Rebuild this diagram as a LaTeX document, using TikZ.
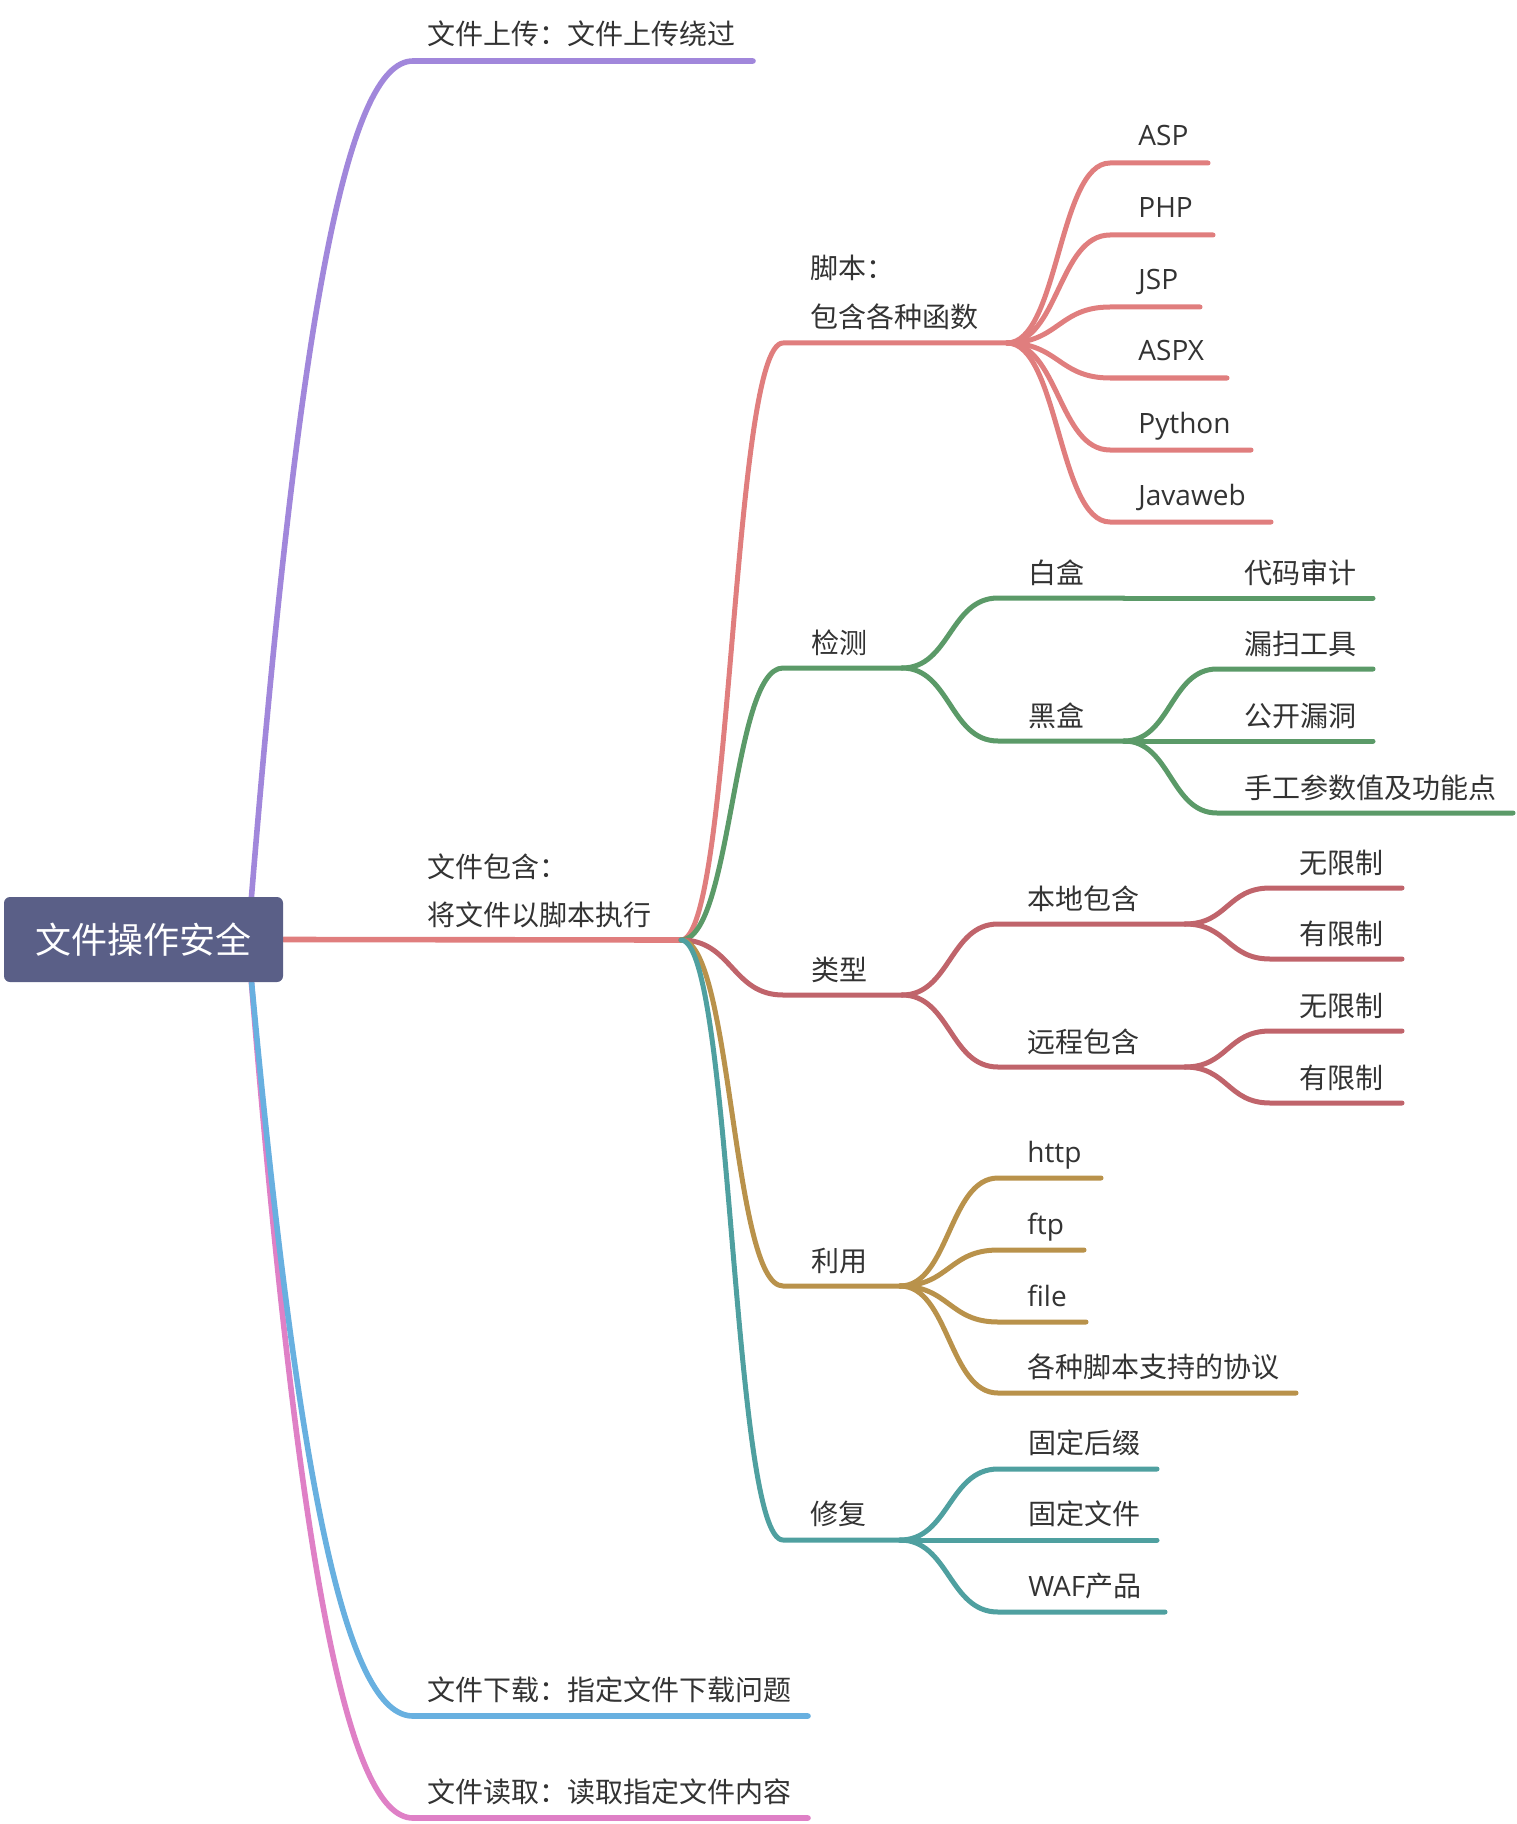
\documentclass[tikz,border=0pt]{standalone}
\usepackage{fontspec}
\setmainfont{Open Sans}
\newfontfamily\cjk{Noto Sans CJK SC}
\usetikzlibrary{calc,backgrounds}
\definecolor{rootc}{HTML}{5A5F87}
\definecolor{textc}{HTML}{333333}
\definecolor{cpurple}{HTML}{A187DB}
\definecolor{csalmon}{HTML}{E07E7E}
\definecolor{cgreen}{HTML}{5B9A68}
\definecolor{crose}{HTML}{C0646B}
\definecolor{cgold}{HTML}{B9924B}
\definecolor{cteal}{HTML}{4FA0A0}
\definecolor{cblue}{HTML}{68B0E0}
\definecolor{cpink}{HTML}{DF80C6}
\begin{document}
\begin{tikzpicture}[x=0.5pt,y=-0.5pt,
  txt/.style={anchor=base west, inner sep=0pt, text=textc, font=\fontsize{14pt}{16pt}\selectfont},
  ctxt/.style={txt, font=\fontsize{14pt}{16pt}\selectfont\cjk},
  br/.style={line width=2.5pt, line cap=round, line join=round,
    to path={let \p1=(\tikztostart), \p2=(\tikztotarget) in
      .. controls ({0.5*\x1+0.5*\x2},\y1) and ({0.5*\x1+0.5*\x2},\y2) .. (\tikztotarget)}},
  rb/.style={line width=2.8pt, line cap=round, line join=round,
    to path={let \p1=(\tikztostart), \p2=(\tikztotarget) in
      .. controls ({(\x1)+0.3*((\x2)-(\x1))},{(\y1)+0.71*((\y2)-(\y1))}) and ({(\x1)+0.6*((\x2)-(\x1))},\y2) .. (\tikztotarget)}},
  ln/.style={line width=2.5pt, line cap=round}
]
\useasboundingbox (0,0) rectangle (1516,1824);

% root
\node[fill=rootc, rounded corners=3pt, minimum width=139.5pt, minimum height=42.5pt, inner sep=0pt,
      text=white, font=\fontsize{18pt}{20pt}\selectfont\cjk] (root) at (143.5,939.5) {文件操作安全};

% coordinates
\coordinate (up0) at (250,915);
\coordinate (dn0) at (250,965);
\coordinate (s1) at (413,61);   \coordinate (e1) at (753,61);
\coordinate (s7) at (413,1716); \coordinate (e7) at (808,1716);
\coordinate (s8) at (413,1818); \coordinate (e8) at (808,1818);
\coordinate (A) at (681,940);

% level 2
\coordinate (sJB) at (783,343); \coordinate (B) at (1007,343);
\coordinate (sJC) at (783,668); \coordinate (C) at (902,668);
\coordinate (sLX) at (783,995); \coordinate (D) at (902,995);
\coordinate (sLY) at (783,1286); \coordinate (E) at (900,1286);
\coordinate (sXF) at (783,1540); \coordinate (F) at (900,1540);

% script children
\coordinate (sASP) at (1110,163); \coordinate (eASP) at (1208,163);
\coordinate (sPHP) at (1110,235); \coordinate (ePHP) at (1213,235);
\coordinate (sJSP) at (1110,307); \coordinate (eJSP) at (1200,307);
\coordinate (sASPX) at (1110,378); \coordinate (eASPX) at (1227,378);
\coordinate (sPy) at (1110,450); \coordinate (ePy) at (1251,450);
\coordinate (sJW) at (1110,522); \coordinate (eJW) at (1271,522);

% detect children
\coordinate (sBH) at (998,598); \coordinate (G) at (1124,598);
\coordinate (sHH) at (998,741); \coordinate (H) at (1124,741);
\coordinate (sDM) at (1217,598); \coordinate (eDM) at (1373,598);
\coordinate (sLS) at (1217,669); \coordinate (eLS) at (1373,669);
\coordinate (sGK) at (1217,741); \coordinate (eGK) at (1373,741);
\coordinate (sSG) at (1217,813); \coordinate (eSG) at (1513,813);

% type children
\coordinate (sBD) at (998,924); \coordinate (I) at (1185,924);
\coordinate (sYC) at (998,1067); \coordinate (J) at (1185,1067);
\coordinate (sW1) at (1270,888); \coordinate (eW1) at (1402,888);
\coordinate (sY1) at (1270,959); \coordinate (eY1) at (1402,959);
\coordinate (sW2) at (1270,1031); \coordinate (eW2) at (1402,1031);
\coordinate (sY2) at (1270,1103); \coordinate (eY2) at (1402,1103);

% use children
\coordinate (sHT) at (998,1178); \coordinate (eHT) at (1101,1178);
\coordinate (sFT) at (998,1250); \coordinate (eFT) at (1084,1250);
\coordinate (sFI) at (998,1322); \coordinate (eFI) at (1086,1322);
\coordinate (sGZ) at (998,1393); \coordinate (eGZ) at (1296,1393);

% fix children
\coordinate (sHZ) at (998,1469); \coordinate (eHZ) at (1157,1469);
\coordinate (sWJ) at (998,1540); \coordinate (eWJ) at (1157,1540);
\coordinate (sWAF) at (998,1612); \coordinate (eWAF) at (1165,1612);

\begin{scope}[on background layer]
  \draw[rb, cpurple] (up0) to (s1) -- (e1);
  \draw[rb, cpink] (dn0) to (s8) -- (e8);
  \draw[rb, cblue] (dn0) to (s7) -- (e7);
  \draw[csalmon, line width=2.8pt, line cap=round] (root.east) -- (A);
\end{scope}

% level 2 connectors
\draw[br, csalmon] (A) to (sJB) -- (B);
\draw[br, cgreen] (A) to (sJC) -- (C);
\draw[br, crose] (A) to (sLX) -- (D);
\draw[br, cgold] (A) to (sLY) -- (E);
\draw[br, cteal] (A) to (sXF) -- (F);

% script
\foreach \s/\e in {sASP/eASP,sPHP/ePHP,sJSP/eJSP,sASPX/eASPX,sPy/ePy,sJW/eJW}
  \draw[br, csalmon] (B) to (\s) -- (\e);

% detect
\draw[br, cgreen] (C) to (sBH) -- (G);
\draw[br, cgreen] (C) to (sHH) -- (H);
\draw[br, cgreen] (G) to (sDM) -- (eDM);
\foreach \s/\e in {sLS/eLS,sGK/eGK,sSG/eSG}
  \draw[br, cgreen] (H) to (\s) -- (\e);

% type
\draw[br, crose] (D) to (sBD) -- (I);
\draw[br, crose] (D) to (sYC) -- (J);
\draw[br, crose] (I) to (sW1) -- (eW1);
\draw[br, crose] (I) to (sY1) -- (eY1);
\draw[br, crose] (J) to (sW2) -- (eW2);
\draw[br, crose] (J) to (sY2) -- (eY2);

% use
\foreach \s/\e in {sHT/eHT,sFT/eFT,sFI/eFI,sGZ/eGZ}
  \draw[br, cgold] (E) to (\s) -- (\e);

% fix
\foreach \s/\e in {sHZ/eHZ,sWJ/eWJ,sWAF/eWAF}
  \draw[br, cteal] (F) to (\s) -- (\e);

% texts
\node[ctxt] (t1) at (427,45) {文件上传：文件上传绕过};
\node[ctxt] (t2a) at (427,877) {文件包含：};
\node[ctxt] (t2b) at (427,925) {将文件以脚本执行};
\node[ctxt] (t7) at (427,1700) {文件下载：指定文件下载问题};
\node[ctxt] (t8) at (427,1802) {文件读取：读取指定文件内容};

\node[ctxt] (jb1) at (810,279) {脚本：};
\node[ctxt] (jb2) at (810,328) {包含各种函数};
\node[txt] (asp) at (1138,146) {ASP};
\node[txt] (php) at (1138,218) {PHP};
\node[txt] (jsp) at (1138,290) {JSP};
\node[txt] (aspx) at (1138,361) {ASPX};
\node[txt] (py) at (1138,433) {Python};
\node[txt] (jw) at (1138,505) {Javaweb};

\node[ctxt] (jc) at (811,653) {检测};
\node[ctxt] (bh) at (1028,583) {白盒};
\node[ctxt] (dm) at (1244,583) {代码审计};
\node[ctxt] (hh) at (1028,726) {黑盒};
\node[ctxt] (ls) at (1244,654) {漏扫工具};
\node[ctxt] (gk) at (1244,726) {公开漏洞};
\node[ctxt] (sg) at (1244,798) {手工参数值及功能点};

\node[ctxt] (lx) at (811,980) {类型};
\node[ctxt] (bd) at (1027,909) {本地包含};
\node[ctxt] (yc) at (1027,1052) {远程包含};
\node[ctxt] (w1) at (1299,873) {无限制};
\node[ctxt] (y1) at (1299,944) {有限制};
\node[ctxt] (w2) at (1299,1016) {无限制};
\node[ctxt] (y2) at (1299,1088) {有限制};

\node[ctxt] (ly) at (811,1271) {利用};
\node[txt] (ht) at (1027,1162) {http};
\node[txt] (ft) at (1027,1234) {ftp};
\node[txt] (fi) at (1027,1306) {file};
\node[ctxt] (gz) at (1027,1377) {各种脚本支持的协议};

\node[ctxt] (xf) at (810,1524) {修复};
\node[ctxt] (hz) at (1028,1453) {固定后缀};
\node[ctxt] (wj) at (1028,1524) {固定文件};
\node[txt] (waf) at (1028,1596) {WAF{\cjk 产品}};
\end{tikzpicture}
\end{document}
